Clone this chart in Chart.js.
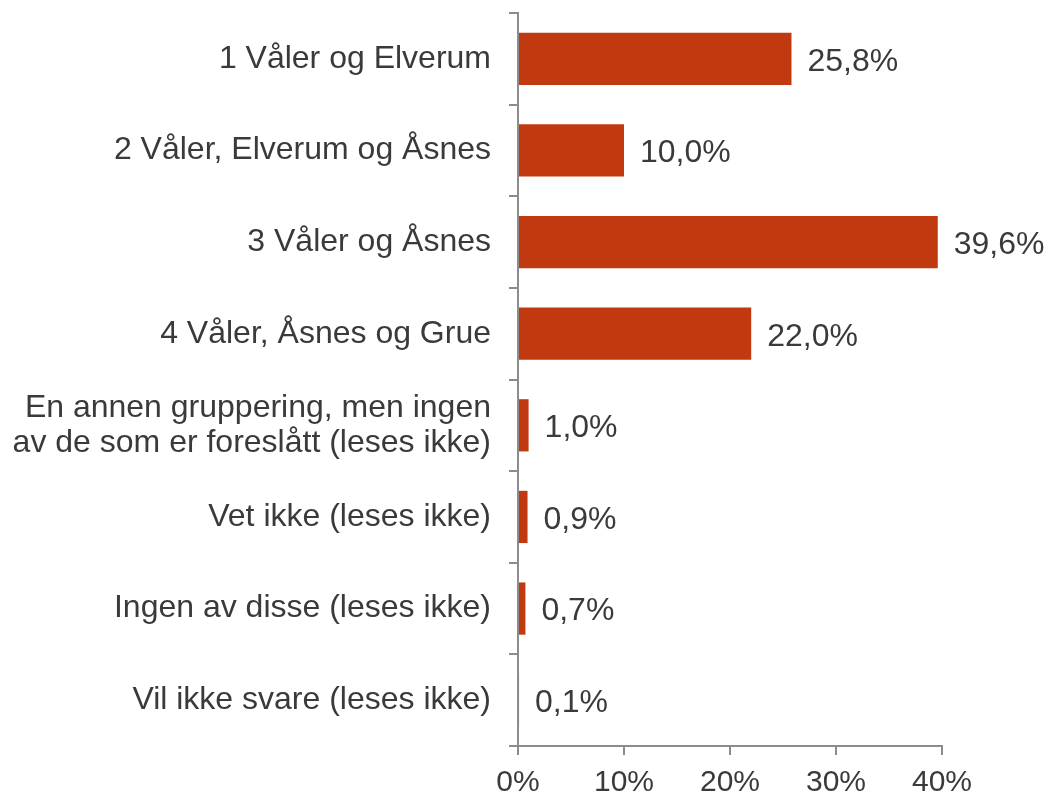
<!DOCTYPE html>
<html>
<head>
<meta charset="utf-8">
<script src="https://cdn.jsdelivr.net/npm/chart.js@4.4.0/dist/chart.umd.min.js"></script>
<style>
  html, body { margin: 0; padding: 0; background: #fff; }
  #wrap { width: 1048px; height: 798px; }
</style>
</head>
<body>
<div id="wrap"><canvas id="chart" width="1048" height="798"></canvas></div>
<script>
// Data
const categories = [
  '1 Våler og Elverum',
  '2 Våler, Elverum og Åsnes',
  '3 Våler og Åsnes',
  '4 Våler, Åsnes og Grue',
  ['En annen gruppering, men ingen', 'av de som er foreslått (leses ikke)'],
  'Vet ikke (leses ikke)',
  'Ingen av disse (leses ikke)',
  'Vil ikke svare (leses ikke)'
];
const values = [25.8, 10.0, 39.6, 22.0, 1.0, 0.9, 0.7, 0.1];
const xTicks = [0, 10, 20, 30, 40];

const fontFamily = '"Liberation Sans", Arial, sans-serif';
const textColor = '#3a3a3a';
const axisColor = '#8c8c8c';

// Verdietiketter til høyre for søylene
const valueLabels = {
  id: 'valueLabels',
  afterDatasetsDraw(chart) {
    const ctx = chart.ctx;
    const meta = chart.getDatasetMeta(0);
    ctx.save();
    ctx.font = '32px ' + fontFamily;
    ctx.fillStyle = textColor;
    ctx.textAlign = 'left';
    ctx.textBaseline = 'middle';
    meta.data.forEach((bar, i) => {
      const txt = values[i].toFixed(1).replace('.', ',') + '%';
      ctx.fillText(txt, bar.x + 16, bar.y + 3);
    });
    ctx.restore();
  }
};

const ctx = document.getElementById('chart').getContext('2d');
new Chart(ctx, {
  type: 'bar',
  data: {
    labels: categories,
    datasets: [{
      data: values,
      backgroundColor: '#c1390f',
      borderWidth: 0,
      categoryPercentage: 1,
      barPercentage: 0.57
    }]
  },
  options: {
    indexAxis: 'y',
    responsive: false,
    animation: false,
    layout: { padding: { top: 13, right: 106, left: 0, bottom: 0 } },
    plugins: {
      legend: { display: false },
      tooltip: { enabled: false }
    },
    scales: {
      x: {
        min: 0,
        max: 40,
        afterBuildTicks(scale) {
          scale.ticks = xTicks.map(v => ({ value: v }));
        },
        afterFit(scale) { scale.height = 52; },
        border: { display: true, color: axisColor, width: 2 },
        grid: { drawOnChartArea: false, drawTicks: true, tickLength: 9, color: axisColor, lineWidth: 2 },
        ticks: {
          color: textColor,
          font: { size: 30, family: fontFamily },
          padding: 10,
          maxRotation: 0,
          callback: v => v + '%'
        }
      },
      y: {
        afterFit(scale) {
          scale.width = 518;
          scale.paddingTop = 0;
          scale.paddingBottom = 0;
        },
        border: { display: true, color: axisColor, width: 2 },
        grid: { offset: true, drawOnChartArea: false, drawTicks: true, tickLength: 9, color: axisColor, lineWidth: 2 },
        ticks: {
          color: textColor,
          font: { size: 32, family: fontFamily, lineHeight: 1.1 },
          padding: 18
        }
      }
    }
  },
  plugins: [valueLabels]
});
</script>
</body>
</html>
